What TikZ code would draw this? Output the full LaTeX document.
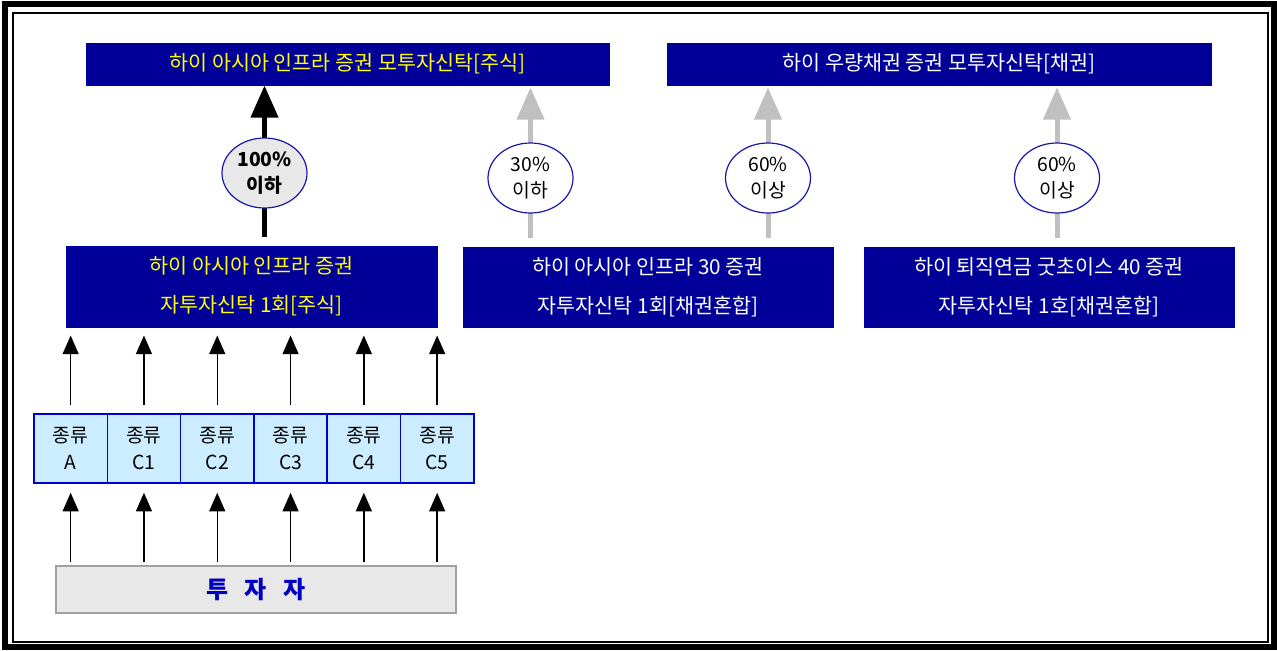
\documentclass[tikz,border=0pt]{standalone}
\usepackage{fontspec}
\setmainfont{Noto Sans CJK KR}
\usetikzlibrary{arrows.meta,shapes.geometric,backgrounds}

\newcommand{\pxu}{0.75pt}
\definecolor{navyfill}{RGB}{0,0,153}
\definecolor{bandyellow}{RGB}{255,255,0}
\definecolor{ringblue}{RGB}{24,24,170}
\definecolor{classfill}{RGB}{204,236,255}
\definecolor{classline}{RGB}{0,0,204}
\definecolor{greyfill}{RGB}{232,232,232}
\definecolor{greyline}{RGB}{160,160,160}
\definecolor{greyarrow}{RGB}{192,192,192}
\definecolor{invtext}{RGB}{0,0,192}

\tikzset{every picture/.style={line width=0.75pt}}
\tikzset{
  fundbox/.style={rectangle, fill=navyfill, draw=navyfill!85!blue, inner sep=0pt, align=center, text=white, font=\fontsize{15.5}{29}\selectfont},
  ratioring/.style={ellipse, draw=ringblue, fill=white, line width=1.2*\pxu, minimum width=85*\pxu, minimum height=70*\pxu, inner sep=0pt, align=center, font=\fontsize{14.5}{19}\selectfont},
  classbox/.style={rectangle, draw=classline, fill=classfill, line width=1.5*\pxu, minimum width=73.3*\pxu, minimum height=69*\pxu, inner sep=0pt, align=center, font=\fontsize{14.5}{20}\selectfont},
  bigarrow/.style={line width=5*\pxu, -{Triangle[length=24pt,width=20pt]}},
  smallarrow/.style={line width=1.5*\pxu, -{Triangle[length=14pt,width=12pt]}},
}

\begin{document}
\begin{tikzpicture}[x=0.75pt,y=0.75pt,yscale=-1,xscale=1]
\useasboundingbox (0,0) rectangle (1277,650);

%Shape: Frame
\draw [line width=6*\pxu] (5,4) rectangle (1274,647) ;
\draw [line width=2*\pxu] (13,13) rectangle (1268,642) ;

% Text Node
\node [fundbox, text=bandyellow, minimum width=523*\pxu, minimum height=42*\pxu] (topA) at (347.5,64) {하이 아시아 인프라 증권 모투자신탁[주식]};
% Text Node
\node [fundbox, minimum width=544*\pxu, minimum height=42*\pxu] (topB) at (939,64) {하이 우량채권 증권 모투자신탁[채권]};
% Text Node
\node [fundbox, text=bandyellow, minimum width=371*\pxu, minimum height=81*\pxu] (fundA) at (251.5,286.5) {하이 아시아 인프라 증권\\자투자신탁 1회[주식]};
% Text Node
\node [fundbox, minimum width=370*\pxu, minimum height=80*\pxu] (fundB) at (648,287) {하이 아시아 인프라 30 증권\\자투자신탁 1회[채권혼합]};
% Text Node
\node [fundbox, minimum width=370*\pxu, minimum height=80*\pxu] (fundC) at (1049,287) {하이 퇴직연금 굿초이스 40 증권\\자투자신탁 1호[채권혼합]};

%Shape: Ellipse
\node [ratioring, fill=greyfill, font=\fontsize{14.5}{19}\selectfont\bfseries] (pctA) at (264.5,173) {100\%\\이하};
%Shape: Ellipse
\node [ratioring] (pctB) at (530.5,178) {30\%\\이하};
%Shape: Ellipse
\node [ratioring] (pctC) at (768,178) {60\%\\이상};
%Shape: Ellipse
\node [ratioring] (pctD) at (1057,178) {60\%\\이상};

%Shape: Class boxes
\node [classbox] (cA) at (70.65,448.5) {종류\\A};
\node [classbox] (c1) at (143.95,448.5) {종류\\C1};
\node [classbox] (c2) at (217.25,448.5) {종류\\C2};
\node [classbox] (c3) at (290.55,448.5) {종류\\C3};
\node [classbox] (c4) at (363.85,448.5) {종류\\C4};
\node [classbox] (c5) at (437.15,448.5) {종류\\C5};

% Text Node
\node [rectangle, draw=greyline, fill=greyfill, line width=2*\pxu, minimum width=400*\pxu, minimum height=47*\pxu, inner sep=0pt, text=invtext, font=\fontsize{18}{20}\selectfont\bfseries] (inv) at (256,589.5) {투\hspace{0.7em}자\hspace{0.7em}자};

%Straight Lines
\begin{scope}[on background layer]
\draw [bigarrow, shorten <=9*\pxu] (pctA |- fundA.north) -- (pctA |- topA.south) ;
\draw [bigarrow, greyarrow, shorten <=9*\pxu, shorten >=2*\pxu] (pctB |- fundB.north) -- (pctB |- topA.south) ;
\draw [bigarrow, greyarrow, shorten <=9*\pxu, shorten >=2*\pxu] (pctC |- fundB.north) -- (pctC |- topB.south) ;
\draw [bigarrow, greyarrow, shorten <=9*\pxu, shorten >=2*\pxu] (pctD |- fundC.north) -- (pctD |- topB.south) ;
\end{scope}

%Straight Lines
\draw [smallarrow, shorten <=8*\pxu, shorten >=8*\pxu] (cA.north) -- (cA.north |- fundA.south) ;
\draw [smallarrow, shorten <=8*\pxu, shorten >=8*\pxu] (c1.north) -- (c1.north |- fundA.south) ;
\draw [smallarrow, shorten <=8*\pxu, shorten >=8*\pxu] (c2.north) -- (c2.north |- fundA.south) ;
\draw [smallarrow, shorten <=8*\pxu, shorten >=8*\pxu] (c3.north) -- (c3.north |- fundA.south) ;
\draw [smallarrow, shorten <=8*\pxu, shorten >=8*\pxu] (c4.north) -- (c4.north |- fundA.south) ;
\draw [smallarrow, shorten <=8*\pxu, shorten >=8*\pxu] (c5.north) -- (c5.north |- fundA.south) ;

%Straight Lines
\draw [smallarrow, shorten <=3*\pxu, shorten >=9*\pxu] (cA.south |- inv.north) -- (cA.south) ;
\draw [smallarrow, shorten <=3*\pxu, shorten >=9*\pxu] (c1.south |- inv.north) -- (c1.south) ;
\draw [smallarrow, shorten <=3*\pxu, shorten >=9*\pxu] (c2.south |- inv.north) -- (c2.south) ;
\draw [smallarrow, shorten <=3*\pxu, shorten >=9*\pxu] (c3.south |- inv.north) -- (c3.south) ;
\draw [smallarrow, shorten <=3*\pxu, shorten >=9*\pxu] (c4.south |- inv.north) -- (c4.south) ;
\draw [smallarrow, shorten <=3*\pxu, shorten >=9*\pxu] (c5.south |- inv.north) -- (c5.south) ;

\end{tikzpicture}
\end{document}
